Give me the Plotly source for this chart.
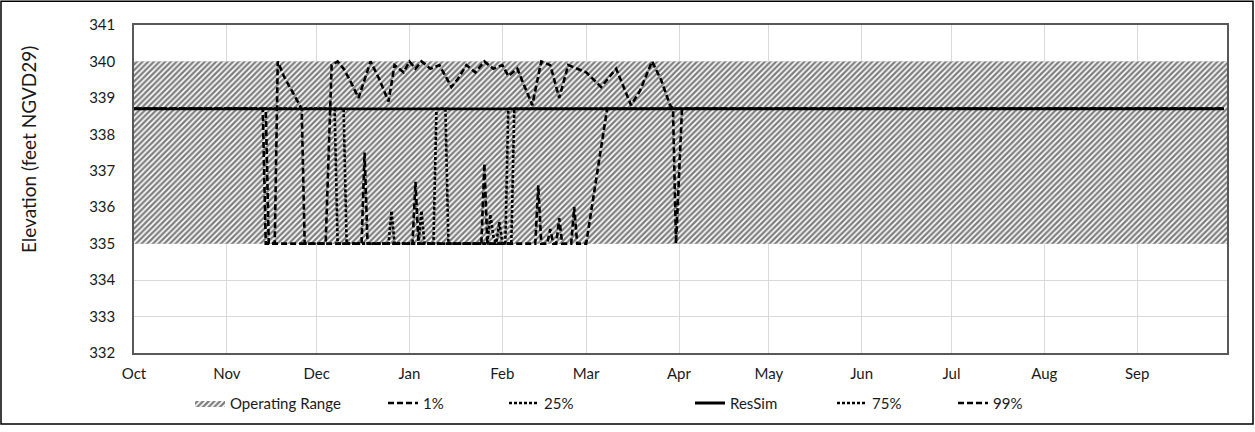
import plotly.graph_objects as go

# ---------------- data ----------------
months = ["Oct", "Nov", "Dec", "Jan", "Feb", "Mar", "Apr", "May", "Jun", "Jul", "Aug", "Sep"]
month_starts = ["2000-10-01", "2000-11-01", "2000-12-01", "2001-01-01", "2001-02-01", "2001-03-01",
                "2001-04-01", "2001-05-01", "2001-06-01", "2001-07-01", "2001-08-01", "2001-09-01"]

range_dates = ["2000-10-01", "2001-10-01"]
range_low = 335.0
range_high = 340.0

ressim_dates = ["2000-10-01", "2001-09-30"]
ressim_vals = [338.7, 338.7]

p1_dates = ["2000-10-01", "2000-11-13", "2000-11-14", "2000-12-16", "2000-12-17", "2000-12-18",
            "2001-01-02", "2001-01-03", "2001-01-04", "2001-01-25", "2001-01-26", "2001-01-27",
            "2001-02-12", "2001-02-13", "2001-02-14", "2001-02-16", "2001-02-17", "2001-02-18",
            "2001-02-19", "2001-02-20", "2001-02-21", "2001-02-24", "2001-02-25", "2001-02-26",
            "2001-03-01", "2001-03-04", "2001-03-08", "2001-09-30"]
p1_vals = [338.7, 338.7, 335.0, 335.0, 337.5, 335.0,
           335.0, 336.7, 335.0, 335.0, 337.2, 335.0,
           335.0, 336.6, 335.0, 335.0, 335.4, 335.0,
           335.0, 335.7, 335.0, 335.0, 336.0, 335.0,
           335.0, 336.6, 338.7, 338.7]

p25_dates = ["2000-10-01", "2000-12-07", "2000-12-08", "2000-12-25", "2000-12-26", "2000-12-27",
             "2001-01-09", "2001-01-10", "2001-01-13", "2001-01-14", "2001-01-30", "2001-01-31",
             "2001-02-01", "2001-02-02", "2001-02-03", "2001-09-30"]
p25_vals = [338.7, 338.7, 335.0, 335.0, 335.9, 335.0,
            335.0, 338.7, 338.7, 335.0, 335.0, 335.6,
            335.0, 335.0, 338.7, 338.7]

p75_dates = ["2000-10-01", "2000-12-10", "2000-12-11", "2001-01-04", "2001-01-05", "2001-01-06",
             "2001-01-27", "2001-01-28", "2001-01-29", "2001-01-30", "2001-02-04", "2001-02-05",
             "2001-09-30"]
p75_vals = [338.7, 338.7, 335.0, 335.0, 335.9, 335.0,
            335.0, 335.8, 335.2, 335.0, 335.0, 338.7,
            338.7]

p99_dates = ["2000-10-01", "2000-11-14", "2000-11-15", "2000-11-17", "2000-11-18", "2000-11-20",
             "2000-11-24", "2000-11-26", "2000-11-27", "2000-12-04", "2000-12-06", "2000-12-08",
             "2000-12-10", "2000-12-12", "2000-12-15", "2000-12-19", "2000-12-22", "2000-12-25",
             "2000-12-27", "2000-12-30", "2001-01-01", "2001-01-03", "2001-01-05", "2001-01-08",
             "2001-01-11", "2001-01-15", "2001-01-17", "2001-01-20", "2001-01-23", "2001-01-26",
             "2001-01-29", "2001-02-01", "2001-02-03", "2001-02-06", "2001-02-09", "2001-02-11",
             "2001-02-14", "2001-02-17", "2001-02-20", "2001-02-23", "2001-02-26", "2001-03-01",
             "2001-03-06", "2001-03-09", "2001-03-11", "2001-03-16", "2001-03-19", "2001-03-23",
             "2001-03-26", "2001-03-29", "2001-03-30", "2001-03-31", "2001-04-02", "2001-09-30"]
p99_vals = [338.7, 338.7, 335.0, 335.0, 340.0, 339.6,
            339.0, 338.7, 335.0, 335.0, 339.9, 340.0,
            339.8, 339.5, 339.0, 340.0, 339.5, 338.9,
            339.9, 339.7, 340.0, 339.8, 340.0, 339.8,
            339.9, 339.3, 339.5, 339.9, 339.7, 340.0,
            339.8, 339.9, 339.6, 339.8, 339.2, 338.8,
            340.0, 339.9, 339.0, 339.9, 339.8, 339.7,
            339.3, 339.6, 339.8, 338.8, 339.2, 340.0,
            339.5, 338.8, 338.7, 335.0, 338.7, 338.7]

y_ticks = [332, 333, 334, 335, 336, 337, 338, 339, 340, 341]
y_title = "Elevation (feet NGVD29)"

# ---------------- figure ----------------
W, H = 1255, 432
ML, MR, MT, MB = 134, 28, 25, 74
PW, PH = W - ML - MR, H - MT - MB

FONT = "Lato, Carlito, 'Liberation Sans', sans-serif"
TXT = "#1a1a1a"
DASH = "6px,3px"
DOT = "3px,2px"
LW = 2.6

fig = go.Figure()

# operating range (hatched band)
fig.add_trace(go.Scatter(
    x=[range_dates[0], range_dates[1], range_dates[1], range_dates[0], range_dates[0]],
    y=[range_high, range_high, range_low, range_low, range_high],
    mode="lines", fill="toself", line=dict(width=0, color="rgba(0,0,0,0)"),
    fillcolor="white",
    fillpattern=dict(shape="/", size=4, solidity=0.58, fgcolor="#000000", bgcolor="white"),
    name="Operating Range", legend="legend", hoverinfo="skip"))

fig.add_trace(go.Scatter(x=p1_dates, y=p1_vals, mode="lines", name="1%",
                         line=dict(color="black", width=LW, dash=DASH), legend="legend2"))
fig.add_trace(go.Scatter(x=p25_dates, y=p25_vals, mode="lines", name="25%",
                         line=dict(color="black", width=LW, dash=DOT), legend="legend3"))
fig.add_trace(go.Scatter(x=ressim_dates, y=ressim_vals, mode="lines", name="ResSim",
                         line=dict(color="black", width=2.8), legend="legend4"))
fig.add_trace(go.Scatter(x=p75_dates, y=p75_vals, mode="lines", name="75%",
                         line=dict(color="black", width=LW, dash=DOT), legend="legend5"))
fig.add_trace(go.Scatter(x=p99_dates, y=p99_vals, mode="lines", name="99%",
                         line=dict(color="black", width=LW, dash=DASH), legend="legend6"))

def px_to_paper_x(px):
    return (px - ML) / PW

def px_to_paper_y(py):
    return (MT + PH - py) / PH

legend_text_starts = [232, 425, 546, 732, 874, 995]
leg_common = dict(orientation="h", yanchor="middle", xanchor="left", y=px_to_paper_y(409),
                  bgcolor="rgba(0,0,0,0)", font=dict(family=FONT, size=15, color=TXT),
                  itemwidth=30, tracegroupgap=0)
legends = {}
for i, xs in enumerate(legend_text_starts):
    key = "legend" if i == 0 else f"legend{i+1}"
    legends[key] = dict(x=px_to_paper_x(xs - 42), **leg_common)

fig.update_layout(
    width=W, height=H,
    margin=dict(l=ML, r=MR, t=MT, b=MB),
    paper_bgcolor="white", plot_bgcolor="white",
    font=dict(family=FONT, size=15, color=TXT),
    showlegend=True,
    **legends,
)

fig.update_xaxes(
    type="date",
    range=["2000-10-01", "2001-10-01"],
    tickvals=month_starts, ticktext=months,
    showgrid=True, gridcolor="#d9d9d9", gridwidth=1,
    showline=True, mirror=True, linecolor="#595959", linewidth=1.5,
    ticks="", ticklabelstandoff=6,
    tickfont=dict(family=FONT, size=15, color=TXT),
    zeroline=False, automargin=False,
)
fig.update_yaxes(
    range=[332, 341],
    tickvals=y_ticks,
    showgrid=True, gridcolor="#d9d9d9", gridwidth=1,
    showline=True, mirror=True, linecolor="#595959", linewidth=1.5,
    ticks="", ticklabelstandoff=14,
    tickfont=dict(family=FONT, size=15, color=TXT),
    zeroline=False, automargin=False,
)

# y-axis title (placed like the original, slightly above the plot's centre)
fig.add_annotation(text=y_title, textangle=-90, xref="paper", yref="paper",
                   x=px_to_paper_x(28), y=px_to_paper_y(152), xanchor="center", yanchor="middle",
                   showarrow=False, font=dict(family=FONT, size=19, color=TXT))

# outer chart border
fig.add_shape(type="rect", xref="paper", yref="paper",
              x0=px_to_paper_x(1), x1=px_to_paper_x(W - 2),
              y0=px_to_paper_y(H - 2), y1=px_to_paper_y(1),
              line=dict(color="black", width=1.5), fillcolor="rgba(0,0,0,0)", layer="below")

fig.write_html("out.html", config={"displayModeBar": False},
               post_script="document.body.style.margin='0';document.body.style.padding='0';")
